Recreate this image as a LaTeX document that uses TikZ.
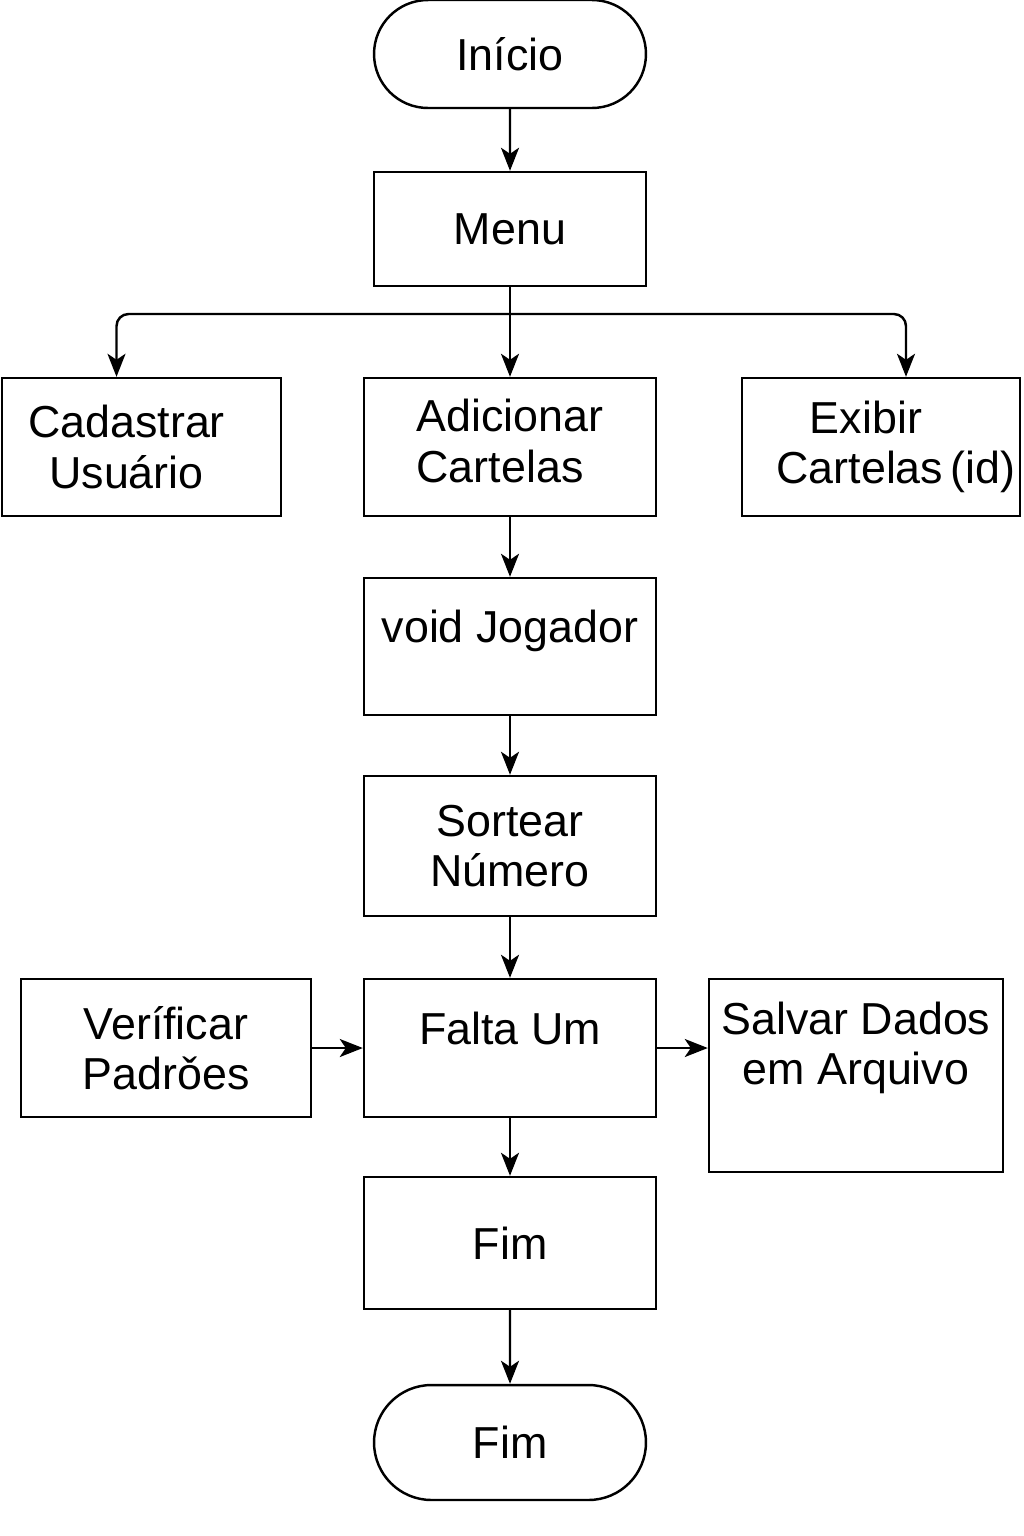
\documentclass[tikz,border=0pt]{standalone}
\usepackage{fontspec}
\setmainfont{Liberation Sans}
\usetikzlibrary{arrows.meta,shapes.misc}

\tikzset{
    caixa/.style={draw, line width=1.4pt, align=center, inner sep=0pt,
        font=\fontsize{25.5}{28.5}\selectfont},
    terminal/.style={caixa, rounded rectangle},
    seta/.style={line width=1.4pt, -{Stealth[length=0.46cm, width=0.36cm, inset=0.12cm]}}
}

\begin{document}
\begin{tikzpicture}[x=0.02cm, y=-0.02cm]
    \useasboundingbox (0,0) rectangle (1024,1536);

    % Inicio e menu
    \node[terminal, minimum width=5.44cm, minimum height=2.16cm] (inicio) at (510,54) {Início};
    \node[caixa, minimum width=5.44cm, minimum height=2.28cm] (menu) at (510,229) {Menu};

    % Opcoes do menu
    \node[caixa, minimum width=5.58cm, minimum height=2.76cm] (cadastrar) at (141.5,447) {\hspace*{-0.6cm}Cadastrar\\\hspace*{-0.6cm}Usuário};
    \node[caixa, minimum width=5.84cm, minimum height=2.76cm] (adicionar) at (510,447) {\begin{tabular}{@{}l@{}}Adicionar\\Cartelas\end{tabular}};
    \node[caixa, minimum width=5.56cm, minimum height=2.76cm] (exibir) at (881,447) {\hspace*{-0.6cm}Exibir\\\hspace*{0.6cm}Cartelas\,(id)};

    % Fluxo do jogo
    \node[caixa, minimum width=5.84cm, minimum height=2.74cm] (jogador) at (510,646.5) {void Jogador\\[-0.5cm]\strut};
    \node[caixa, minimum width=5.84cm, minimum height=2.80cm] (sortear) at (510,846) {Sortear\\Número};
    \node[caixa, minimum width=5.84cm, minimum height=2.76cm] (falta) at (510,1048) {Falta Um\\[-0.5cm]\strut};
    \node[caixa, minimum width=5.80cm, minimum height=2.76cm] (verificar) at (166,1048) {Veríficar\\Padrǒes};
    \node[caixa, minimum width=5.88cm, minimum height=3.86cm] (salvar) at (856,1075.5) {Salvar Dados\\em Arquivo\\\strut};
    \node[caixa, minimum width=5.84cm, minimum height=2.64cm] (fimcaixa) at (510,1243) {Fim};
    \node[terminal, minimum width=5.44cm, minimum height=2.30cm] (fim) at (510,1442.5) {Fim};

    % Conexoes
    \draw[seta] (inicio) -- (menu);
    \draw[seta] (menu) -- (adicionar);
    \coordinate (ramo) at (510,314);
    \draw[seta, rounded corners=0.24cm] (ramo) -| ([xshift=-0.5cm]cadastrar.north);
    \draw[seta, rounded corners=0.24cm] (ramo) -| ([xshift=0.5cm]exibir.north);
    \draw[seta] (adicionar) -- (jogador);
    \draw[seta] (jogador) -- (sortear);
    \draw[seta] (sortear) -- (falta);
    \draw[seta] (verificar) -- (falta);
    \draw[seta] (falta.east) -- (falta.east -| salvar.west);
    \draw[seta] (falta) -- (fimcaixa);
    \draw[seta] (fimcaixa) -- (fim);
\end{tikzpicture}
\end{document}
